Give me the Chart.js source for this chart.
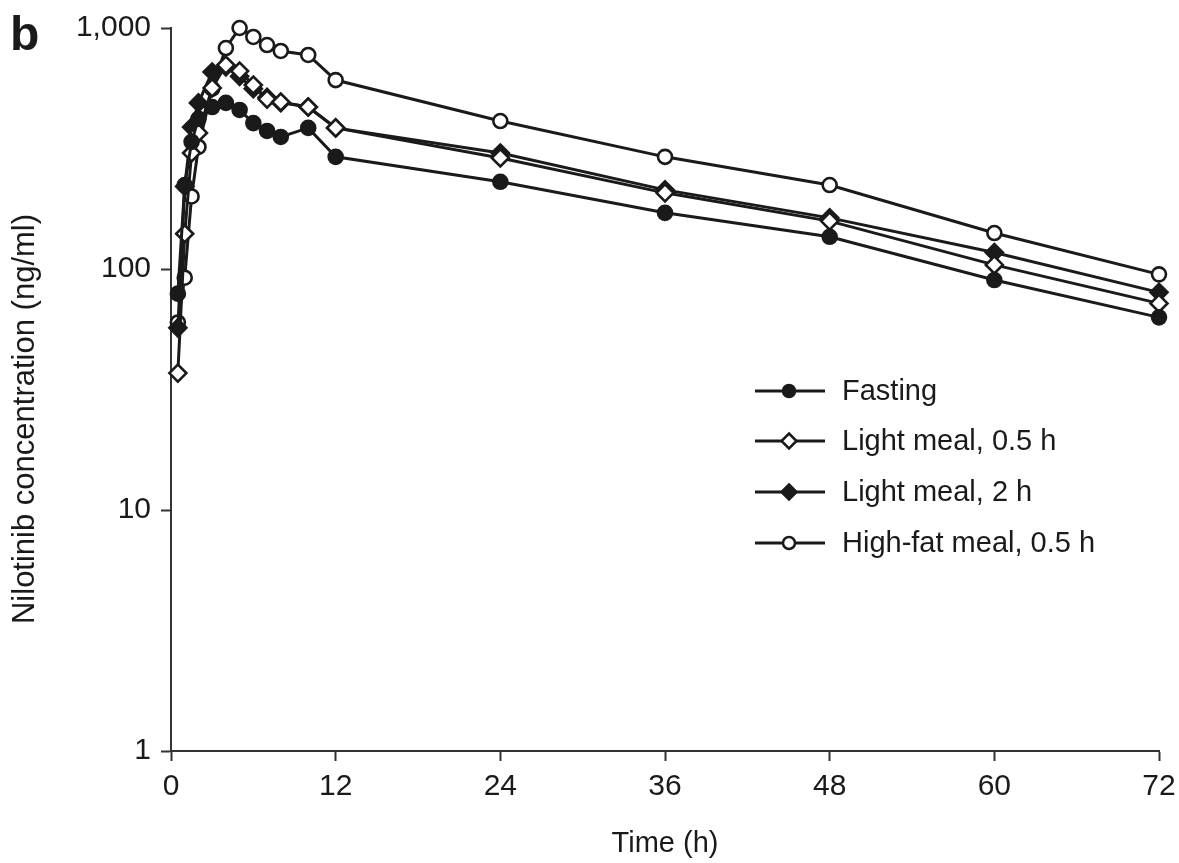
<!DOCTYPE html>
<html>
<head>
<meta charset="utf-8">
<title>Nilotinib concentration</title>
<script src="https://cdn.jsdelivr.net/npm/chart.js"></script>
<style>
  html, body { margin: 0; padding: 0; background: #fff; }
  #wrap { width: 1179px; height: 863px; position: relative; }
</style>
</head>
<body>
<div id="wrap"><canvas id="pkChart"></canvas></div>
<script>
// Sampling times (h) and mean plasma concentrations (ng/ml)
const hours = [0.5, 1, 1.5, 2, 3, 4, 5, 6, 7, 8, 10, 12, 24, 36, 48, 60, 72];
const fasting = [79, 223, 337, 420, 470, 489, 457, 403, 374, 353, 385, 292, 230, 171, 136, 90, 63];
const lightMeal05 = [37, 140, 303, 367, 564, 702, 663, 580, 507, 493, 470, 385, 289, 207, 158, 104, 72];
const lightMeal2 = [57, 220, 388, 489, 657, 690, 630, 560, 515, 490, 470, 385, 303, 213, 163, 117, 80];
const highFat05 = [60, 92, 200, 321, 560, 826, 1000, 918, 850, 803, 773, 608, 411, 292, 223, 141, 95];
const seriesNames = ['Fasting', 'Light meal, 0.5 h', 'Light meal, 2 h', 'High-fat meal, 0.5 h'];
const xTicks = [0, 12, 24, 36, 48, 60, 72];
const yTicks = [1, 10, 100, 1000];

const INK = '#1a1a1a';
const FONT = '"Liberation Sans", Arial, Helvetica, sans-serif';

// marker look per series: [pointStyle, filled, radius]
const markers = [
    ['circle', true, 7],
    ['rectRot', false, 8.5],
    ['rectRot', true, 8.5],
    ['circle', false, 7]
];

const datasets = [fasting, lightMeal05, lightMeal2, highFat05].map((vals, i) => ({
    label: seriesNames[i],
    data: hours.map((h, j) => ({ x: h, y: vals[j] })),
    borderColor: INK,
    borderWidth: 3,
    pointStyle: markers[i][0],
    pointRadius: markers[i][2],
    pointBorderWidth: 2.6,
    pointBorderColor: INK,
    pointBackgroundColor: markers[i][1] ? INK : '#fff',
    tension: 0,
    clip: false
}));

// Legend, y-axis title and panel letter drawn straight onto the canvas
const extras = {
    id: 'extras',
    afterDraw(chart) {
        const ctx = chart.ctx;
        ctx.save();
        ctx.fillStyle = INK;
        ctx.strokeStyle = INK;

        // panel letter
        ctx.font = 'bold 48px ' + FONT;
        ctx.textBaseline = 'alphabetic';
        ctx.textAlign = 'left';
        ctx.fillText('b', 10, 50);

        // y-axis title
        ctx.save();
        ctx.translate(25, 419);
        ctx.rotate(-Math.PI / 2);
        ctx.font = '31px ' + FONT;
        ctx.textAlign = 'center';
        ctx.textBaseline = 'middle';
        ctx.fillText('Nilotinib concentration (ng/ml)', 0, 0);
        ctx.restore();

        // legend
        const rows = [391, 441, 492, 543];
        ctx.font = '29px ' + FONT;
        ctx.textAlign = 'left';
        ctx.textBaseline = 'middle';
        chart.data.datasets.forEach((ds, i) => {
            const y = rows[i];
            ctx.lineWidth = 3;
            ctx.beginPath();
            ctx.moveTo(755, y);
            ctx.lineTo(825, y);
            ctx.stroke();
            const mx = 789;
            const r = ds.pointStyle === 'circle' ? 6 : 7.5;
            ctx.beginPath();
            if (ds.pointStyle === 'circle') {
                ctx.arc(mx, y, r, 0, Math.PI * 2);
            } else {
                ctx.moveTo(mx, y - r);
                ctx.lineTo(mx + r, y);
                ctx.lineTo(mx, y + r);
                ctx.lineTo(mx - r, y);
                ctx.closePath();
            }
            ctx.fillStyle = ds.pointBackgroundColor;
            ctx.fill();
            ctx.lineWidth = 2.5;
            ctx.stroke();
            ctx.fillStyle = INK;
            ctx.fillText(ds.label, 842, y + 1);
        });
        ctx.restore();
    }
};

const ctx = document.getElementById('pkChart').getContext('2d');
const pkChart = new Chart(ctx, {
    type: 'line',
    data: { datasets: datasets },
    options: {
        responsive: true,
        maintainAspectRatio: false,
        animation: false,
        layout: { padding: { top: 28, right: 20, left: 0, bottom: 0 } },
        plugins: {
            legend: { display: false },
            tooltip: { enabled: false }
        },
        scales: {
            x: {
                type: 'linear',
                min: 0,
                max: 72,
                afterBuildTicks: (scale) => { scale.ticks = xTicks.map(v => ({ value: v })); },
                afterFit: (scale) => {
                    scale.height = 112;
                    scale.paddingRight = 0;
                    scale.paddingLeft = 0;
                },
                ticks: {
                    color: INK,
                    font: { family: FONT, size: 30 },
                    padding: 8,
                    maxRotation: 0
                },
                grid: {
                    drawOnChartArea: false,
                    drawTicks: true,
                    tickLength: 10,
                    tickWidth: 2,
                    tickColor: '#333'
                },
                border: { color: '#333', width: 2 },
                title: {
                    display: true,
                    text: 'Time (h)',
                    color: INK,
                    font: { family: FONT, size: 29 },
                    padding: { top: 0, bottom: 2 }
                }
            },
            y: {
                type: 'logarithmic',
                min: 1,
                max: 1000,
                afterBuildTicks: (scale) => { scale.ticks = yTicks.map(v => ({ value: v })); },
                afterFit: (scale) => { scale.width = 171; },
                ticks: {
                    color: INK,
                    font: { family: FONT, size: 30 },
                    padding: 10,
                    callback: (v) => Number(v).toLocaleString('en-US')
                },
                grid: {
                    drawOnChartArea: false,
                    drawTicks: true,
                    tickLength: 10,
                    tickWidth: 2,
                    tickColor: '#333'
                },
                border: { color: '#333', width: 2 }
            }
        }
    },
    plugins: [extras]
});
</script>
</body>
</html>
